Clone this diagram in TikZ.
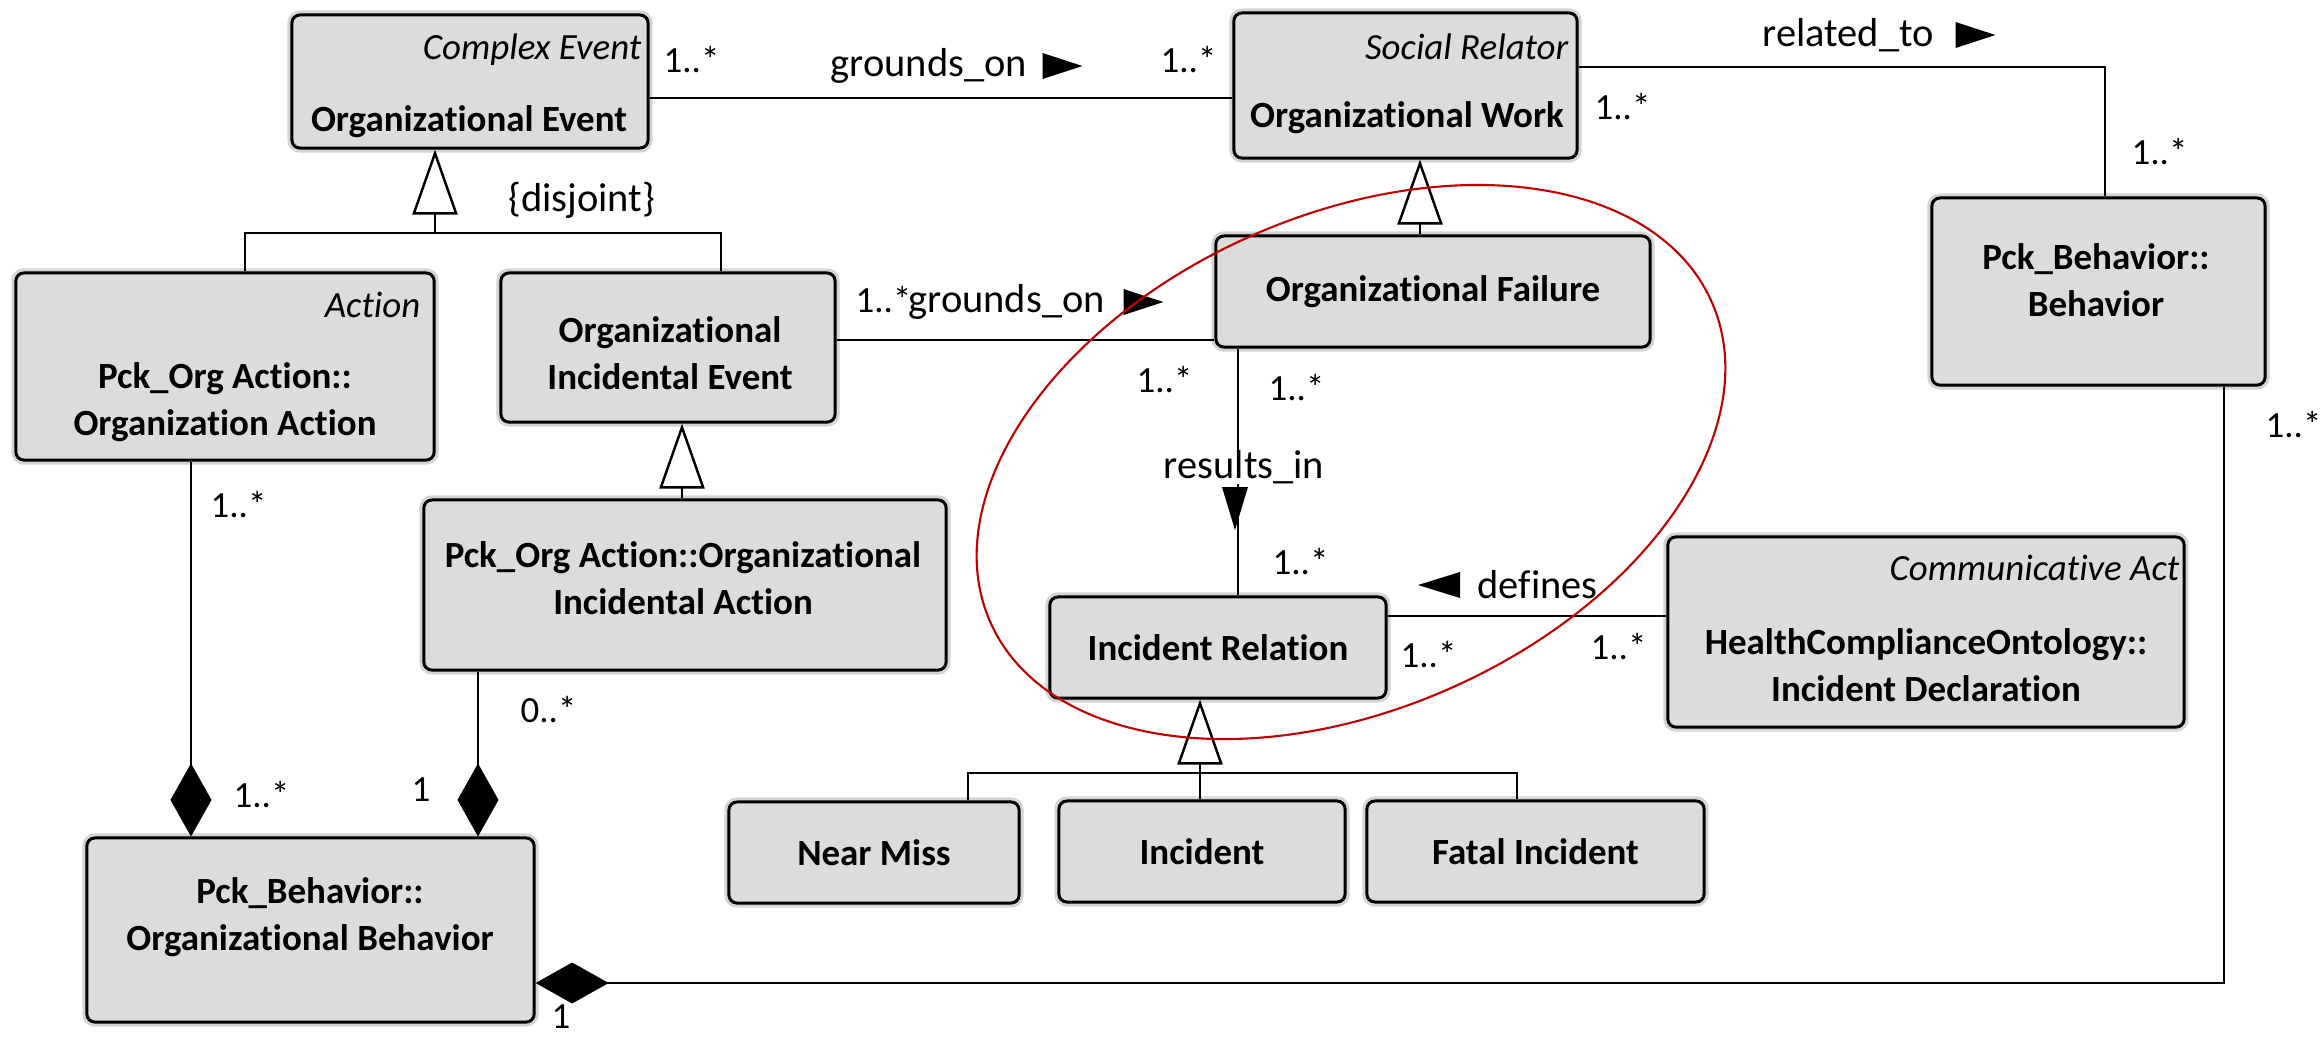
\documentclass[tikz,border=0pt]{standalone}
\usepackage{fontspec}
\setmainfont{Carlito}[Ligatures=NoCommon]
\usetikzlibrary{arrows.meta}

\definecolor{classfill}{RGB}{220,220,220}
\definecolor{classhalo}{RGB}{212,212,212}
\definecolor{ringred}{RGB}{192,0,0}

\newcommand\namefont{\bfseries\fontsize{10.5}{13.4}\selectfont}
\newcommand\stereofont{\itshape\fontsize{10.5}{13}\selectfont}
\newcommand\labelfont{\fontsize{11.5}{13}\selectfont}
\newcommand\multfont{\fontsize{10.5}{12}\selectfont}

\begin{document}
\begin{tikzpicture}[x=0.01cm, y=-0.01cm,
  classbox/.style={rectangle, rounded corners=0.08cm, draw=black, line width=0.85pt,
    fill=classfill, inner sep=0pt, font=\namefont, align=center,
    preaction={draw=classhalo, line width=2.6pt}},
  cname/.style={font=\namefont, align=center, inner sep=0pt},
  stereo/.style={font=\stereofont, inner sep=0pt, anchor=east},
  lbl/.style={font=\labelfont, inner sep=0pt, anchor=west},
  mult/.style={font=\multfont, inner sep=0pt, anchor=west},
  conn/.style={draw=black, line width=0.7pt},
  gen/.style={conn, -{Triangle[length=0.65cm, width=0.45cm, fill=white]}},
  comp/.style={conn, -{Diamond[length=0.73cm, width=0.41cm]}},
  ring/.style={draw=ringred, line width=0.6pt}
]
\useasboundingbox (0,0) rectangle (2323,1038);

% ---- classes ----
\node[classbox, minimum width=3.56cm, minimum height=1.33cm] (OE) at (470,81.5) {};
\node[cname] (OEname) at (469,122) {Organizational Event};
\node[stereo] (OEst) at (642,50) {Complex Event};

\node[classbox, minimum width=3.43cm, minimum height=1.45cm] (OW) at (1405.5,85.5) {};
\node[cname] (OWname) at (1407,118) {Organizational Work};
\node[stereo] (OWst) at (1569,47) {Social Relator};

\node[classbox, minimum width=3.33cm, minimum height=1.87cm] (PB) at (2098.5,291.5) {};
\node[cname] (PBname) at (2096,280) {Pck\_Behavior::\\Behavior};

\node[classbox, minimum width=4.34cm, minimum height=1.11cm] (OF) at (1433,291.5) {Organizational Failure};

\node[classbox, minimum width=4.18cm, minimum height=1.87cm] (PA) at (225,366.5) {};
\node[stereo] (PAst) at (421,305) {Action};
\node[cname] (PAname) at (225,402) {Pck\_Org Action::\\Organization Action};

\node[classbox, minimum width=3.34cm, minimum height=1.49cm] (OIE) at (668,347.5) {};
\node[cname] (OIEname) at (670,353) {Organizational\\Incidental Event};

\node[classbox, minimum width=5.22cm, minimum height=1.70cm] (OIA) at (685,585) {};
\node[cname] (OIAname) at (683,578) {Pck\_Org Action::Organizational\\Incidental Action};

\node[classbox, minimum width=3.36cm, minimum height=1.01cm] (IR) at (1218,647.5) {Incident Relation};

\node[classbox, minimum width=5.16cm, minimum height=1.90cm] (ID) at (1926,632) {};
\node[stereo] (IDst) at (2180,568) {Communicative Act};
\node[cname] (IDname) at (1926,665) {HealthComplianceOntology::\\Incident Declaration};

\node[classbox, minimum width=2.90cm, minimum height=1.01cm] (NM) at (874,852.5) {Near Miss};
\node[classbox, minimum width=2.86cm, minimum height=1.01cm] (INC) at (1202,851.5) {Incident};
\node[classbox, minimum width=3.37cm, minimum height=1.01cm] (FI) at (1535.5,851.5) {Fatal Incident};

\node[classbox, minimum width=4.47cm, minimum height=1.84cm] (OB) at (310.5,930) {};
\node[cname] (OBname) at (310,917) {Pck\_Behavior::\\Organizational Behavior};

% ---- associations ----
\coordinate (ga) at (0,98);
\draw[conn] (OE.east |- ga) -- (OW.west |- ga);

\coordinate (rt) at (2105,67);
\draw[conn] (OW.east |- rt) -- (rt) -- (rt |- PB.north);

\coordinate (go2) at (0,340);
\draw[conn] (OIE.east |- go2) -- (OF.west |- go2);

\node[lbl, anchor=center] (RI) at (1244,467) {results\_in};
\coordinate (rl) at (1238,0);
\draw[conn] (rl |- OF.south) -- (rl |- RI.north);
\draw[conn] (rl |- RI.south) -- (rl |- IR.north);
\fill (1222,487) -- (1248,487) -- (1235,530) -- cycle;

\coordinate (df) at (0,616);
\draw[conn] (IR.east |- df) -- (ID.west |- df);

% ---- generalizations ----
\coordinate (gA) at (245,233);
\coordinate (gJ) at (435,233);
\coordinate (gB) at (721,233);
\draw[conn] (gA |- PA.north) -- (gA) -- (gB) -- (gB |- OIE.north);
\draw[gen] (gJ) -- (gJ |- OE.south);

\coordinate (gW) at (1420,0);
\draw[gen] (gW |- OF.north) -- (gW |- OW.south);

\coordinate (gE) at (682,0);
\draw[gen] (gE |- OIA.north) -- (gE |- OIE.south);

\coordinate (gN) at (968,773);
\coordinate (gC) at (1200,773);
\coordinate (gF) at (1517,773);
\draw[conn] (gN |- NM.north) -- (gN) -- (gF) -- (gF |- FI.north);
\draw[conn] (gC) -- (gC |- INC.north);
\draw[gen] (gC) -- (gC |- IR.south);

% ---- compositions ----
\coordinate (cA) at (191,0);
\coordinate (cB) at (478,0);
\coordinate (cC) at (2224,983);
\draw[comp] (cA |- PA.south) -- (cA |- OB.north);
\draw[comp] (cB |- OIA.south) -- (cB |- OB.north);
\draw[comp] (cC |- PB.south) -- (cC) -- (OB.east |- cC);

% ---- labels and multiplicities ----
\node[mult] (m1) at (663,60) {1..*};
\node[lbl] (GO1) at (830,66) {grounds\_on};
\fill ([xshift=0.15cm, yshift=0.13cm]GO1.east) -- ++(0,26) -- ++(40,-13) -- cycle;
\node[mult] (m2) at (1160,60) {1..*};

\node[lbl] (RT) at (1762,35) {related\_to};
\fill ([xshift=0.21cm, yshift=0.13cm]RT.east) -- ++(0,26) -- ++(40,-13) -- cycle;
\node[mult] (m3) at (1594,107) {1..*};
\node[mult] (m4) at (2131,152) {1..*};

\node[lbl] (DJ) at (508,200) {\{disjoint\}};

\node[mult] (m5) at (855,300) {1..*};
\node[lbl] (GO2) at (908,302) {grounds\_on};
\fill ([xshift=0.18cm, yshift=0.13cm]GO2.east) -- ++(0,26) -- ++(40,-13) -- cycle;

\node[mult] (m6) at (1136,380) {1..*};
\node[mult] (m7) at (1268,388) {1..*};
\node[mult] (m8) at (1272,562) {1..*};

\node[lbl] (DF) at (1477,585) {defines};
\fill ([xshift=-0.17cm, yshift=0.13cm]DF.west) -- ++(0,26) -- ++(-42,-13) -- cycle;
\node[mult] (m9) at (1400,655) {1..*};
\node[mult] (m10) at (1590,647) {1..*};

\node[mult] (m11) at (210,505) {1..*};
\node[mult] (m12) at (520,710) {0..*};
\node[mult] (m13) at (233,795) {1..*};
\node[mult, anchor=center] (m14) at (421,790) {1};
\node[mult, anchor=center] (m15) at (561,1017) {1};
\node[mult] (m16) at (2265,425) {1..*};

% ---- highlight ring ----
\draw[ring, rotate around={24:(1351,462)}] (1351,462) ellipse [x radius=3.944cm, y radius=2.47cm];
\end{tikzpicture}
\end{document}
